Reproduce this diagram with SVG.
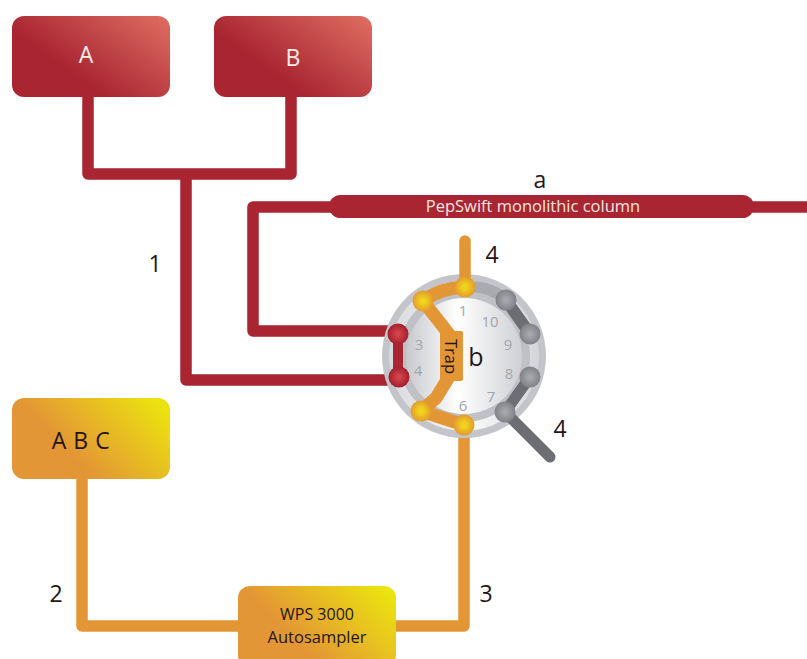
<svg xmlns="http://www.w3.org/2000/svg" width="807" height="659" viewBox="0 0 807 659">
<style>
text{font-family:"Open Sans","Noto Sans",sans-serif;fill:#231517}
.big{font-size:23px}
.port{font-size:15px;fill:#a3a5ab;text-anchor:middle}
.red{fill:none;stroke:#a92531;stroke-width:11.500;stroke-linejoin:round}
.org{fill:none;stroke:#e39635;stroke-width:11.500;stroke-linejoin:round}
.gry{fill:none;stroke:#6d6e73;stroke-width:9;stroke-linecap:round;stroke-linejoin:round}
</style>
<defs>
<linearGradient id="rg" x1="0.3" y1="0.6" x2="1" y2="0.1"><stop offset="0" stop-color="#a92531"/><stop offset="1" stop-color="#dc6a60"/></linearGradient>
<linearGradient id="og" x1="0.3" y1="0.55" x2="1" y2="0.2"><stop offset="0" stop-color="#e39635"/><stop offset="1" stop-color="#ebe30f"/></linearGradient>
<radialGradient id="py"><stop offset="0.2" stop-color="#f0d51c"/><stop offset="1" stop-color="#e59a2e"/></radialGradient>
<radialGradient id="pr"><stop offset="0.1" stop-color="#d5454c"/><stop offset="1" stop-color="#a31f2d"/></radialGradient>
<radialGradient id="pg"><stop offset="0.1" stop-color="#a8a9ae"/><stop offset="1" stop-color="#818287"/></radialGradient>
<linearGradient id="d1" x1="0" y1="0" x2="1" y2="0"><stop offset="0" stop-color="#d8d9dc"/><stop offset="0.55" stop-color="#fafafa"/><stop offset="1" stop-color="#d4d5d8"/></linearGradient>
<linearGradient id="d2" x1="0" y1="0" x2="1" y2="0"><stop offset="0" stop-color="#c8c9cd"/><stop offset="0.45" stop-color="#ffffff"/><stop offset="1" stop-color="#cfd0d4"/></linearGradient>
</defs>

<g id="connectors">
<path class="red" d="M88 96V174H291V96"/>
<path class="red" d="M186 174V380H399"/>
<path class="red" d="M335 207H253V331H398"/>
<path class="red" d="M750 207H807"/>
<path class="org" d="M82 478V626H240"/>
<path class="org" d="M395 626H464V426"/>
</g>

<g id="node-a"><rect x="12" y="16" width="158" height="81" rx="12" fill="url(#rg)"/><text x="86" y="63" text-anchor="middle" class="big" style="fill:#fbeeea">A</text></g>
<g id="node-b"><rect x="214" y="16" width="158" height="81" rx="12" fill="url(#rg)"/><text x="293" y="66" text-anchor="middle" class="big" style="fill:#fbeeea">B</text></g>
<g id="node-column"><rect x="329" y="195" width="425" height="23" rx="11.500" fill="#a92531"/><text x="533" y="212" text-anchor="middle" font-size="16.500" style="fill:#f6e6e2">PepSwift monolithic column</text></g>
<g id="node-abc"><rect x="12" y="398" width="158" height="81" rx="12" fill="url(#og)"/><text x="81" y="449" text-anchor="middle" class="big" style="letter-spacing:0.500px">A B C</text></g>
<g id="node-wps"><rect x="238" y="586" width="158" height="81" rx="12" fill="url(#og)"/><text x="317" y="620" text-anchor="middle" font-size="16">WPS 3000</text><text x="317" y="643" text-anchor="middle" font-size="16.500">Autosampler</text></g>

<g id="node-valve">
<circle cx="464" cy="356" r="82" fill="#c3c5ca"/>
<circle cx="464" cy="356" r="75" fill="url(#d1)"/>
<circle cx="464" cy="356" r="66" fill="#bfc1c6"/>
<circle cx="464" cy="356" r="58" fill="url(#d2)"/>
<path d="M465 287Q490 285 506 300" fill="none" stroke="#a8aaaf" stroke-width="11"/>
<path d="M506 300L530 334" class="gry" stroke-width="12" style="stroke-width:12"/>
<path d="M530 377L505 412" class="gry" style="stroke-width:11"/>
<path d="M505 412L550 457" class="gry" style="stroke-width:11"/>
<path d="M398 334V377" fill="none" stroke="#a92531" stroke-width="10"/>
<path class="org" stroke-linecap="round" d="M465 241V287"/>
<path class="org" style="stroke-width:13" d="M465 287Q440 288 423 301L452 338V372L436 398L421 411L464 425"/>
<rect x="440" y="331" width="23" height="50" rx="2" fill="#e39635"/>
<text x="0" y="0" transform="translate(444.500,339) rotate(90)" font-size="16.500">Trap</text>
<circle cx="465" cy="287" r="10.500" fill="url(#py)"/>
<circle cx="423" cy="301" r="10.500" fill="url(#py)"/>
<circle cx="421" cy="411" r="10.500" fill="url(#py)"/>
<circle cx="464" cy="425" r="10.500" fill="url(#py)"/>
<circle cx="398" cy="334" r="10.500" fill="url(#pr)"/>
<circle cx="399" cy="377" r="10.500" fill="url(#pr)"/>
<circle cx="506" cy="300" r="10.500" fill="url(#pg)"/>
<circle cx="530" cy="334" r="10.500" fill="url(#pg)"/>
<circle cx="530" cy="377" r="10.500" fill="url(#pg)"/>
<circle cx="505" cy="412" r="10.500" fill="url(#pg)"/>
<text class="port" x="463" y="316">1</text>
<text class="port" x="419" y="350">3</text>
<text class="port" x="418" y="376">4</text>
<text class="port" x="463" y="411">6</text>
<text class="port" x="491" y="402">7</text>
<text class="port" x="509" y="379">8</text>
<text class="port" x="508" y="350">9</text>
<text class="port" x="490" y="327">10</text>
</g>

<g id="labels">
<text x="540" y="188" text-anchor="middle" class="big">a</text>
<text x="476" y="366" text-anchor="middle" font-size="25">b</text>
<text x="155" y="272" text-anchor="middle" class="big">1</text>
<text x="56" y="602" text-anchor="middle" class="big">2</text>
<text x="486" y="602" text-anchor="middle" class="big">3</text>
<text x="492" y="263" text-anchor="middle" class="big">4</text>
<text x="560" y="437" text-anchor="middle" class="big">4</text>
</g>
</svg>
